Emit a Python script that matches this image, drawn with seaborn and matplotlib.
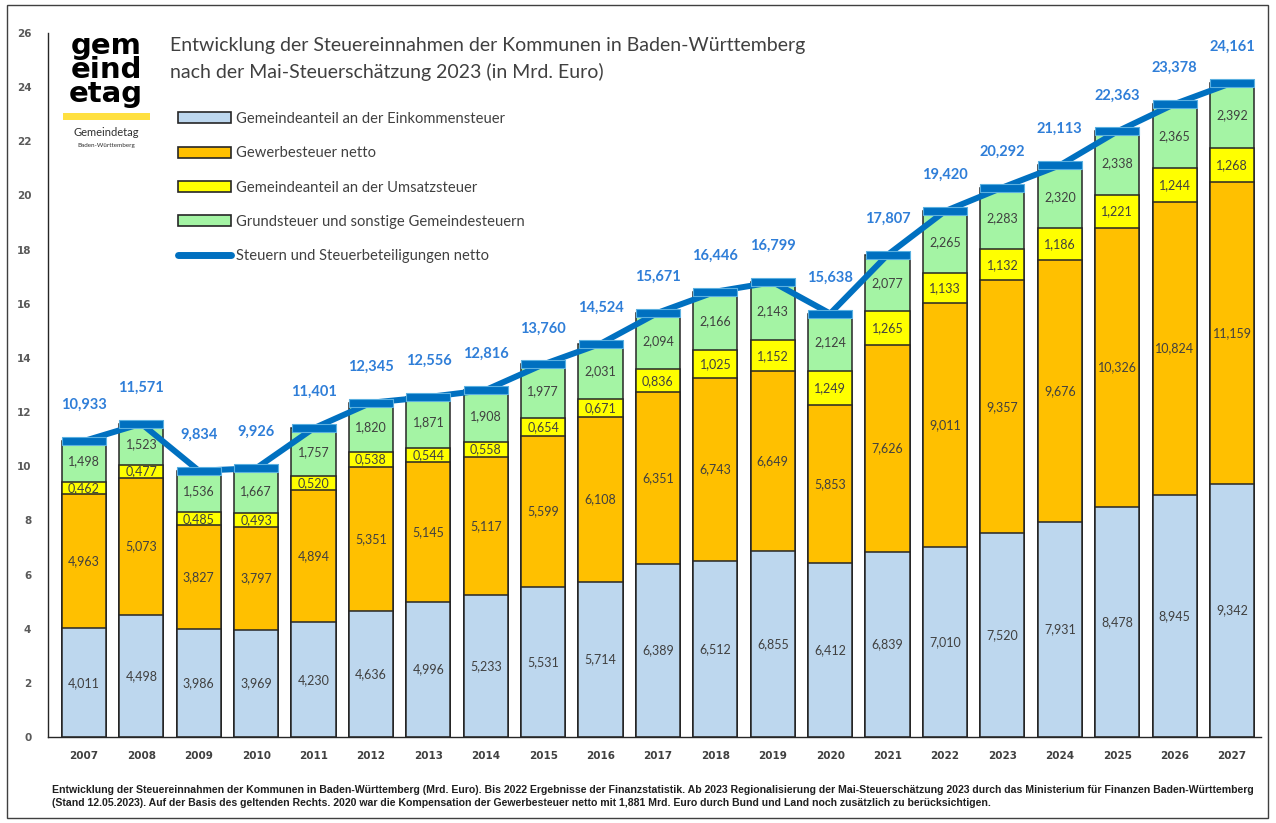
import numpy as np
import matplotlib
matplotlib.use("Agg")
import matplotlib.pyplot as plt
from matplotlib.patches import Patch, Rectangle
from matplotlib.lines import Line2D
import seaborn as sns

years = [str(y) for y in range(2007, 2028)]
einkommen = [4.011, 4.498, 3.986, 3.969, 4.230, 4.636, 4.996, 5.233, 5.531, 5.714, 6.389,
             6.512, 6.855, 6.412, 6.839, 7.010, 7.520, 7.931, 8.478, 8.945, 9.342]
gewerbe = [4.963, 5.073, 3.827, 3.797, 4.894, 5.351, 5.145, 5.117, 5.599, 6.108, 6.351,
           6.743, 6.649, 5.853, 7.626, 9.011, 9.357, 9.676, 10.326, 10.824, 11.159]
umsatz = [0.462, 0.477, 0.485, 0.493, 0.520, 0.538, 0.544, 0.558, 0.654, 0.671, 0.836,
          1.025, 1.152, 1.249, 1.265, 1.133, 1.132, 1.186, 1.221, 1.244, 1.268]
grund = [1.498, 1.523, 1.536, 1.667, 1.757, 1.820, 1.871, 1.908, 1.977, 2.031, 2.094,
         2.166, 2.143, 2.124, 2.077, 2.265, 2.283, 2.320, 2.338, 2.365, 2.392]
netto = [10.933, 11.571, 9.834, 9.926, 11.401, 12.345, 12.556, 12.816, 13.760, 14.524, 15.671,
         16.446, 16.799, 15.638, 17.807, 19.420, 20.292, 21.113, 22.363, 23.378, 24.161]

labels = ["Gemeindeanteil an der Einkommensteuer", "Gewerbesteuer netto",
          "Gemeindeanteil an der Umsatzsteuer", "Grundsteuer und sonstige Gemeindesteuern",
          "Steuern und Steuerbeteiligungen netto"]
colors = ["#BDD7EE", "#FFC000", "#FFFF00", "#A4F4A4"]
line_col = "#0070C0"
edge_col = "#262626"
txt_col = "#404040"

sns.set_style("white")
plt.rcParams["font.family"] = ["Lato", "DejaVu Sans"]

fig = plt.figure(figsize=(12.76, 8.23), dpi=100)
ax = fig.add_axes([48 / 1276, 86 / 823, 1212.7 / 1276, 704 / 823])

layers = [einkommen, gewerbe, umsatz, grund]
cum = np.cumsum(np.array(layers), axis=0)

# draw stacked bars from the top layer down
for i in range(3, -1, -1):
    sns.barplot(x=years, y=cum[i], color=colors[i], saturation=1, width=0.77,
                edgecolor=edge_col, linewidth=1.1, ax=ax)

# segment labels
for i, layer in enumerate(layers):
    base = cum[i] - np.array(layer)
    for j, v in enumerate(layer):
        ax.text(j, base[j] + v / 2, f"{v:.3f}".replace(".", ","), ha="center", va="center",
                fontsize=9, color=txt_col)

# total line with bar-wide markers
xpos = np.arange(len(years))
rect = [(-2.75, -0.5), (2.75, -0.5), (2.75, 0.5), (-2.75, 0.5), (-2.75, -0.5)]
sns.lineplot(x=xpos, y=netto, color=line_col, linewidth=4.3, ax=ax, zorder=5)
ax.plot(xpos, netto, linestyle="none", marker=rect, markersize=31.5,
        markerfacecolor=line_col, markeredgecolor="#5BB0E0", markeredgewidth=0.8, zorder=6)
for j, v in enumerate(netto):
    ax.annotate(f"{v:.3f}".replace(".", ","), (j, v), xytext=(0, 26), textcoords="offset points",
                ha="center", va="center", fontsize=10.5, fontweight="bold", color="#2F7ED8")

ax.set_ylim(0, 26)
ax.set_xlim(-0.627, 20.5)
ax.set_yticks(range(0, 27, 2))
ax.tick_params(axis="y", length=0, pad=12, labelsize=7.5, labelcolor="#595959")
ax.tick_params(axis="x", length=0, pad=10, labelsize=7.5, labelcolor=txt_col)
for t in ax.get_xticklabels() + ax.get_yticklabels():
    t.set_fontfamily("DejaVu Sans")
    t.set_fontweight("bold")
for s in ["top", "right"]:
    ax.spines[s].set_visible(False)
for s in ["left", "bottom"]:
    ax.spines[s].set_color(edge_col)
    ax.spines[s].set_linewidth(1.0)
ax.set_xlabel("")
ax.set_ylabel("")

# legend
handles = [Patch(facecolor=c, edgecolor=edge_col, linewidth=1.2) for c in colors]
handles.append(Line2D([0], [0], color=line_col, linewidth=5))
leg = fig.legend(handles, labels, loc="upper left", bbox_to_anchor=(178 / 1276, 1 - 112 / 823),
                 frameon=False, fontsize=10.6, handlelength=3.6, handleheight=0.75,
                 labelspacing=1.38, handletextpad=0.35, borderpad=0, borderaxespad=0)
for t in leg.get_texts():
    t.set_color(txt_col)

# title
fig.text(170 / 1276, 1 - 45 / 823, "Entwicklung der Steuereinnahmen der Kommunen in Baden-Württemberg",
         fontsize=14, color=txt_col, va="center")
fig.text(170 / 1276, 1 - 72 / 823, "nach der Mai-Steuerschätzung 2023 (in Mrd. Euro)",
         fontsize=14, color=txt_col, va="center")

# logo
fig.text(106 / 1276, 1 - 70 / 823, "gem\neind\netag", fontsize=21, fontweight="black",
         ha="center", va="center", linespacing=0.8, color="black", family="DejaVu Sans")
fig.patches.append(Rectangle((63 / 1276, 1 - 120 / 823), 87 / 1276, 7 / 823,
                             transform=fig.transFigure, facecolor="#FFE040", edgecolor="none"))
fig.text(106 / 1276, 1 - 133 / 823, "Gemeindetag", fontsize=8, ha="center", va="center", color="#303030")
fig.text(106 / 1276, 1 - 146 / 823, "Baden-Württemberg", fontsize=4.5, ha="center", va="center", color="#303030")

# footnote
foot1 = ("Entwicklung der Steuereinnahmen der Kommunen in Baden-Württemberg (Mrd. Euro). Bis 2022 Ergebnisse der "
         "Finanzstatistik. Ab 2023 Regionalisierung der Mai-Steuerschätzung 2023 durch das Ministerium für Finanzen "
         "Baden-Württemberg")
foot2 = ("(Stand 12.05.2023). Auf der Basis des geltenden Rechts. 2020 war die Kompensation der Gewerbesteuer netto "
         "mit 1,881 Mrd. Euro durch Bund und Land noch zusätzlich zu berücksichtigen.")
fig.text(52 / 1276, 1 - 790 / 823, foot1, fontsize=7.55, fontweight="bold", family="Liberation Sans",
         color="#202020", va="center")
fig.text(52 / 1276, 1 - 803 / 823, foot2, fontsize=7.55, fontweight="bold", family="Liberation Sans",
         color="#202020", va="center")

# outer frame
fig.patches.append(Rectangle((7 / 1276, 5 / 823), 1261 / 1276, 813 / 823, transform=fig.transFigure,
                             facecolor="none", edgecolor="#404040", linewidth=1.0))

fig.savefig("out.png", dpi=100)
